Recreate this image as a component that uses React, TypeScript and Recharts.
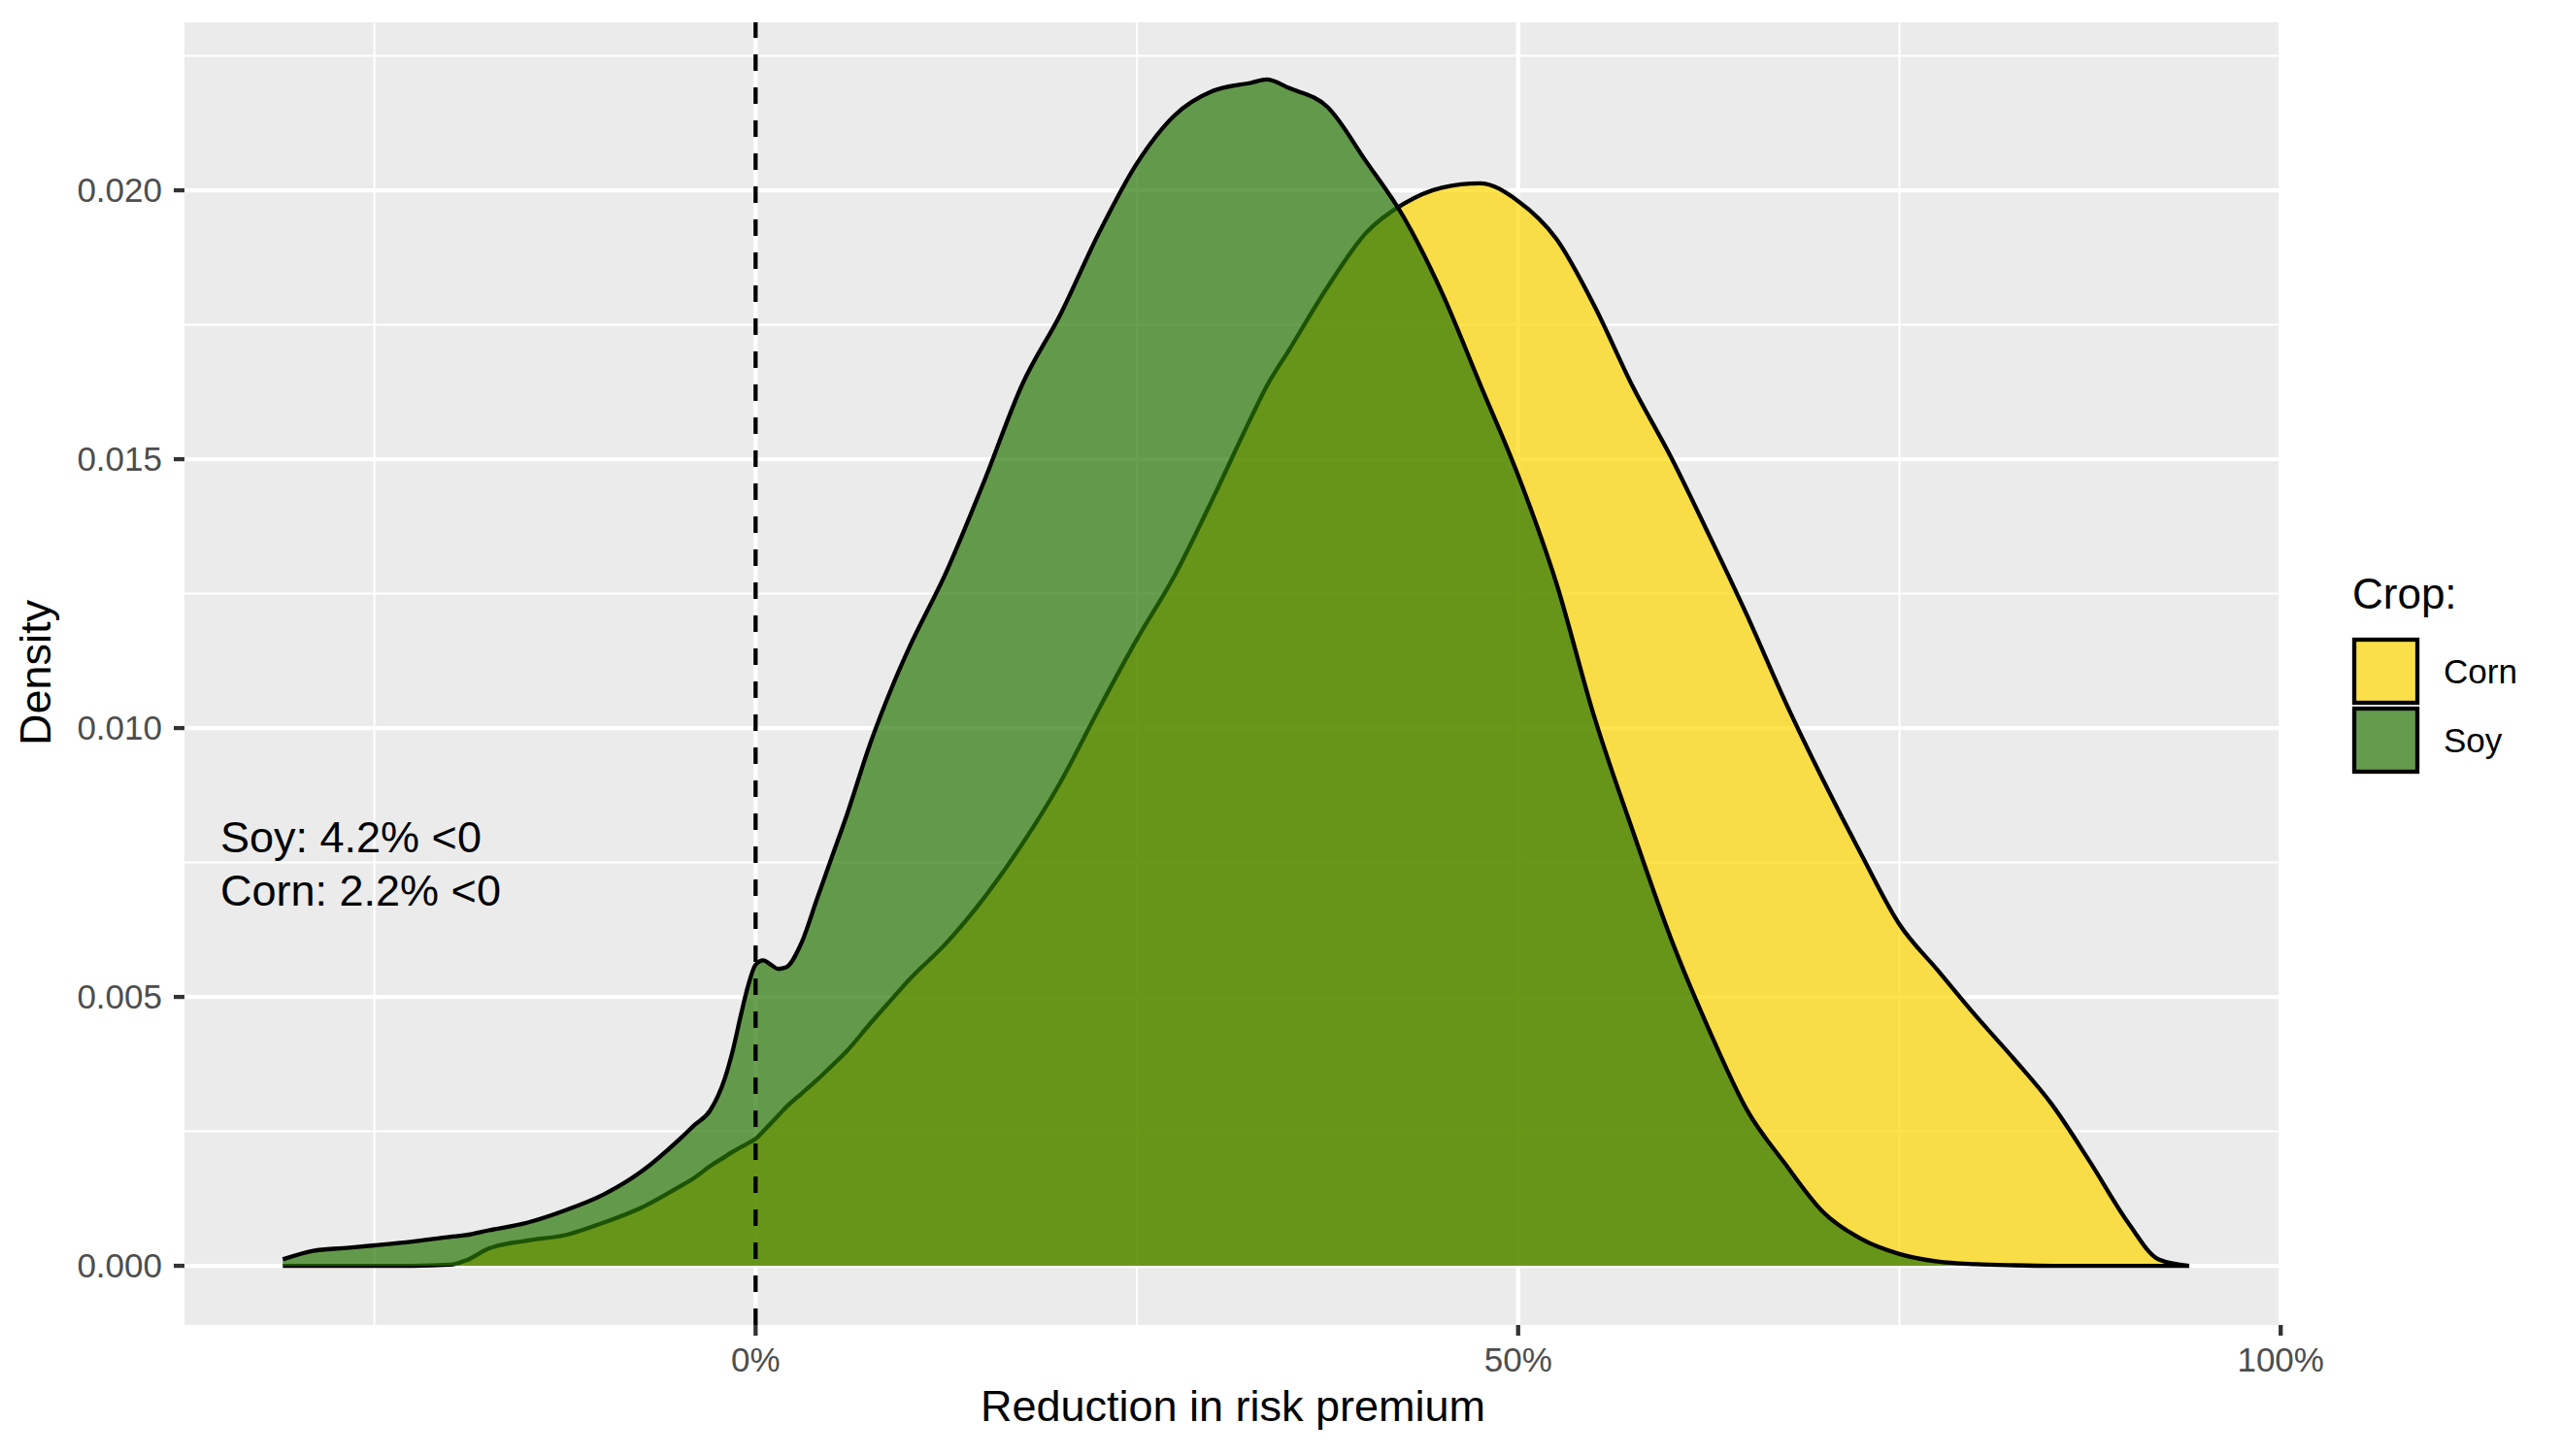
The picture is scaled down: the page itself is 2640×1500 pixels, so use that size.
import React from "react";
import {
  ComposedChart,
  Area,
  XAxis,
  YAxis,
  CartesianGrid,
  ReferenceLine,
} from "recharts";

// reduction in risk premium (%), shared grid for both density curves
const xs = [
  -31, -29, -27, -25, -22.5, -20, -19, -17.5, -15, -12.5, -10, -7.5, -5, -4, -3,
  -2, -1.5, -1, -0.5, 0, 0.5, 1, 1.5, 2, 3, 4, 5, 6, 7.5, 9, 10, 12.5, 15, 17.5,
  20, 22.5, 25, 27.5, 30, 32.5, 33.5, 35, 37.5, 40, 42.5, 45, 47.5, 50, 52.5, 55,
  57.5, 60, 62.5, 65, 67.5, 70, 72.5, 75, 77.5, 80, 82.5, 85, 87.5, 90, 92, 94,
];

const soyDensity = [
  0.00012, 0.00028, 0.00033, 0.00038, 0.00045, 0.00054, 0.00057, 0.00066,
  0.0008, 0.00103, 0.00132, 0.00175, 0.00235, 0.00262, 0.00288, 0.0035, 0.004,
  0.00462, 0.0052, 0.0056, 0.00568, 0.0056, 0.00552, 0.00555, 0.006, 0.0068,
  0.0076, 0.0084, 0.0097, 0.0108, 0.01145, 0.0129, 0.0146, 0.0164, 0.0177,
  0.0192, 0.0205, 0.0214, 0.02185, 0.022, 0.02206, 0.0219, 0.02155, 0.02055,
  0.0195, 0.0181, 0.0164, 0.0147, 0.0127, 0.0102, 0.0081, 0.0061, 0.0044,
  0.0029, 0.0019, 0.001, 0.0005, 0.00022, 0.00008, 0.00003, 0.00001, 0, 0, 0,
  0, 0,
];

const cornDensity = [
  0, 0, 0, 0, 0, 0.00002, 0.0001, 0.00032, 0.00047, 0.00057, 0.0008, 0.00108,
  0.00147, 0.00164, 0.00185, 0.00203, 0.00212, 0.0022, 0.00228, 0.00236, 0.0025,
  0.00265, 0.0028, 0.00295, 0.0032, 0.00345, 0.00372, 0.004, 0.0045, 0.00498,
  0.0053, 0.006, 0.00685, 0.00785, 0.009, 0.01035, 0.01165, 0.01285, 0.01428,
  0.01578, 0.01635, 0.01704, 0.0182, 0.0192, 0.01975, 0.02005, 0.02013, 0.0198,
  0.0191, 0.01785, 0.01636, 0.01505, 0.0136, 0.0121, 0.0105, 0.00903, 0.00765,
  0.00635, 0.0055, 0.00465, 0.00385, 0.003, 0.00193, 0.0008, 0.00012, 0,
];

const xTicks = [0, 50, 100];
const xMinor = [-25, 25, 75];
const yTicks = [0, 0.005, 0.01, 0.015, 0.02];
const yMinor = [0.0025, 0.0075, 0.0125, 0.0175, 0.0225];

const crops = [
  { name: "Corn", color: "#FFD700" },
  { name: "Soy", color: "#297605" },
];
const notes = ["Soy: 4.2% <0", "Corn: 2.2% <0"];

const data = xs.map((x, i) => ({ x, corn: cornDensity[i], soy: soyDensity[i] }));

const FONT = "'Liberation Sans', Arial, Helvetica, sans-serif";
const tickStyle = { fill: "#4D4D4D", fontSize: 35, fontFamily: FONT };
const tickLine = { stroke: "#333333", strokeWidth: 4.3 };

export default function App() {
  return (
    <div style={{ position: "absolute", left: 0, top: 0, width: 2640, height: 1500, background: "#fff" }}>
      <ComposedChart
        width={2640}
        height={1500}
        data={data}
        margin={{ top: 23, right: 290, bottom: 0, left: 0 }}
      >
        <CartesianGrid fill="#EBEBEB" stroke="#FFFFFF" strokeWidth={2.1} horizontalValues={yMinor} verticalValues={xMinor} />
        <CartesianGrid stroke="#FFFFFF" strokeWidth={4.3} horizontalValues={yTicks} verticalValues={xTicks} />
        <XAxis
          dataKey="x"
          type="number"
          domain={[-37.45, 100.05]}
          allowDataOverflow
          ticks={xTicks}
          interval={0}
          tickFormatter={(v) => `${v}%`}
          axisLine={false}
          tickLine={tickLine}
          tickSize={11}
          tickMargin={12}
          tick={tickStyle}
          height={135}
        />
        <YAxis
          type="number"
          domain={[-0.0011, 0.023124]}
          allowDataOverflow
          ticks={yTicks}
          interval={0}
          tickFormatter={(v) => v.toFixed(3)}
          axisLine={false}
          tickLine={tickLine}
          tickSize={11}
          tickMargin={12}
          tick={tickStyle}
          width={190}
        />
        <Area
          type="monotone"
          dataKey="corn"
          baseValue={0}
          stroke="#000000"
          strokeWidth={4.3}
          fill={crops[0].color}
          fillOpacity={0.7}
          dot={false}
          activeDot={false}
          isAnimationActive={false}
        />
        <Area
          type="monotone"
          dataKey="soy"
          baseValue={0}
          stroke="#000000"
          strokeWidth={4.3}
          fill={crops[1].color}
          fillOpacity={0.7}
          dot={false}
          activeDot={false}
          isAnimationActive={false}
        />
        <ReferenceLine x={0} stroke="#000000" strokeWidth={4.3} strokeDasharray="17 17" />
      </ComposedChart>

      <svg
        width={2640}
        height={1500}
        style={{ position: "absolute", left: 0, top: 0, pointerEvents: "none" }}
        fontFamily={FONT}
      >
        {notes.map((t, i) => (
          <text key={t} x={227} y={878 + i * 55} fontSize={45} fill="#000">
            {t}
          </text>
        ))}
        <text x={1270} y={1464} fontSize={45} textAnchor="middle" fill="#000">
          Reduction in risk premium
        </text>
        <text x={52} y={693} fontSize={45} textAnchor="middle" fill="#000" transform="rotate(-90 52 693)">
          Density
        </text>
        <text x={2423} y={627} fontSize={44} fill="#000">
          Crop:
        </text>
        {crops.map((c, i) => (
          <g key={c.name}>
            <rect x={2425} y={659 + i * 71} width={65} height={65} fill="#F2F2F2" />
            <rect
              x={2425}
              y={659 + i * 71}
              width={65}
              height={65}
              fill={c.color}
              fillOpacity={0.7}
              stroke="#000"
              strokeWidth={4.3}
            />
            <text x={2517} y={704 + i * 71} fontSize={35} fill="#000">
              {c.name}
            </text>
          </g>
        ))}
      </svg>
    </div>
  );
}
